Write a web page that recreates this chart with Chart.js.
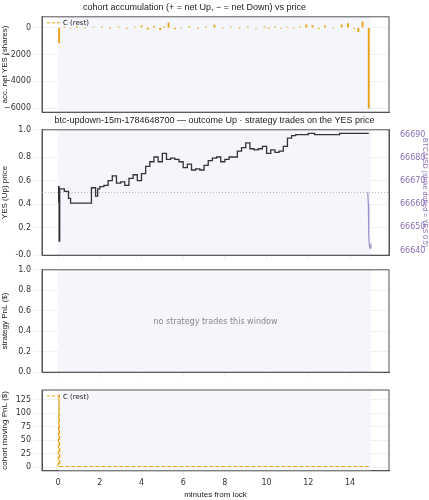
<!DOCTYPE html>
<html><head><meta charset="utf-8">
<script src="https://cdn.jsdelivr.net/npm/chart.js@4.4.0/dist/chart.umd.min.js"></script>
<style>
body{margin:0;background:#fff;font-family:"DejaVu Sans",sans-serif}
.p{position:absolute;left:0;width:429px}
</style></head><body>
<div class="p" style="top:0;height:120px"><canvas id="c1"></canvas></div>
<div class="p" style="top:113px;height:150px"><canvas id="c2"></canvas></div>
<div class="p" style="top:262px;height:118px"><canvas id="c3"></canvas></div>
<div class="p" style="top:380px;height:120px"><canvas id="c4"></canvas></div>
<script>
// panel 1: cohort accumulation stems
const accX = [0.05,0.3,0.6,0.9,1.3,1.7,2.1,2.5,2.9,3.3,3.7,4.0,4.3,4.6,4.9,5.1,5.3,5.6,5.9,6.3,6.7,7.1,7.5,7.9,8.3,8.7,9.1,9.5,9.9,10.1,10.4,10.7,11.0,11.3,11.6,11.9,12.2,12.5,12.8,13.2,13.6,13.9,14.2,14.4,14.6,14.9];
const accY = [-1150,60,-40,80,-50,40,60,-30,50,-60,40,120,-120,100,-150,60,350,-100,-40,80,-60,60,180,-50,40,-30,60,-40,50,-30,60,-40,40,-50,50,200,150,-60,120,-40,200,300,-60,-300,400,-6000];
// panel 2: YES price and BTC
const pxT = [0.0,0.03,0.05,0.08,0.3,0.5,0.6,0.8,1.0,1.4,1.6,1.8,1.9,2.0,2.2,2.4,2.6,2.8,3.0,3.2,3.4,3.6,3.8,4.0,4.2,4.4,4.6,4.8,5.0,5.2,5.4,5.6,5.8,6.0,6.2,6.4,6.6,6.8,7.0,7.2,7.4,7.6,7.8,8.0,8.2,8.4,8.6,8.8,9.0,9.2,9.4,9.6,9.8,10.0,10.2,10.4,10.6,10.8,11.0,11.2,11.4,11.6,11.8,12.0,12.3,12.6,13.0,13.5,14.0,14.5,14.9];
const pxY = [0.42,0.55,0.09,0.53,0.51,0.45,0.41,0.41,0.41,0.41,0.54,0.47,0.53,0.55,0.56,0.60,0.64,0.58,0.59,0.56,0.62,0.65,0.60,0.66,0.72,0.76,0.80,0.76,0.83,0.78,0.79,0.78,0.76,0.71,0.74,0.69,0.70,0.69,0.73,0.77,0.79,0.80,0.76,0.78,0.80,0.80,0.85,0.88,0.92,0.87,0.86,0.87,0.89,0.83,0.86,0.84,0.85,0.89,0.96,0.98,0.99,0.99,0.99,1.0,0.99,0.99,0.99,1.0,1.0,1.0,1.0];
const btcT = [14.85,14.88,14.9,14.93,14.96,15.0];
const btcY = [66665,66660,66646,66642,66641,66643];
// panel 4: cohort moving PnL
const pnlX = [0.0,0.05,0.08,2,4,6,8,10,12,14,14.9];
const pnlY = [1,135,1,1,1,1,1,1,1,1,1];

const orange = '#e8a317';
const grid = {color:'rgba(0,0,0,0.06)'};
const tickFont = {size:8, family:'DejaVu Sans'};
const fitY = s => { s.width = 42; };
const fitR = s => { s.width = 40; };
const xAxis = (showLabels, title) => ({
  type:'linear', min:-0.77, max:15.87, offset:false,
  ticks:{display:showLabels, color:'#333', font:tickFont},
  grid:{...grid, offset:false, drawTicks:true, tickLength:4},
  border:{color:'#555', width:1},
  afterBuildTicks: s => { s.ticks = [0,2,4,6,8,10,12,14].map(v=>({value:v})); },
  title:{display:!!title, text:title, font:{size:8}, color:'#222', padding:0}
});
const shade = {
  id:'shade',
  beforeDatasetsDraw(ch){
    const {ctx, chartArea:a, scales:{x}} = ch;
    ctx.save(); ctx.fillStyle='#f4f6fb';
    ctx.fillRect(x.getPixelForValue(0), a.top, x.getPixelForValue(15)-x.getPixelForValue(0), a.bottom-a.top);
    ctx.restore();
  },
  afterDraw(ch){
    const {ctx, chartArea:a} = ch;
    ctx.save(); ctx.strokeStyle='#555'; ctx.lineWidth=1;
    ctx.strokeRect(a.left, a.top, a.right-a.left, a.bottom-a.top); ctx.restore();
  }
};
const legendDraw = {id:'leg', afterDraw(ch){
  const {ctx, chartArea:a} = ch; ctx.save();
  ctx.strokeStyle=orange; ctx.setLineDash([3,2]); ctx.beginPath(); ctx.moveTo(a.left+5,a.top+6); ctx.lineTo(a.left+18,a.top+6); ctx.stroke();
  ctx.fillStyle='#222'; ctx.font='7px DejaVu Sans'; ctx.fillText('C (rest)', a.left+21, a.top+8.5); ctx.restore();
}};
const base = (title, extra) => ({
  responsive:true, maintainAspectRatio:false, animation:false,
  plugins:{legend:{display:false}, tooltip:{enabled:false},
    title:{display:!!title, text:title, font:{size:9, weight:'normal'}, color:'#222', padding:{top:2,bottom:4}}},
  ...extra
});
const ytitle = t => ({display:true, text:t, font:{size:8}, color:'#222', padding:0});

new Chart(document.getElementById('c1'), {
  type:'bar',
  data:{datasets:[{label:'C (rest)', data:accX.map((x,i)=>({x, y:accY[i]})), backgroundColor:orange, borderColor:orange, barThickness:1.2}]},
  options:base('cohort accumulation (+ = net Up, − = net Down) vs price', {
    layout:{padding:{right:40}},
    scales:{
      x:xAxis(false),
      y:{min:-6300, max:800, afterFit:fitY, grid, border:{color:'#555'},
        ticks:{color:'#333', font:tickFont, callback:v=>String(v).replace('-','−')},
        afterBuildTicks:s=>{s.ticks=[-6000,-4000,-2000,0].map(v=>({value:v}));},
        title:ytitle('acc. net YES (shares)')}
    }
  }),
  plugins:[shade, legendDraw]
});

new Chart(document.getElementById('c2'), {
  type:'line',
  data:{datasets:[
    {data:pxT.map((x,i)=>({x, y:pxY[i]})), borderColor:'#333', borderWidth:1.3, pointRadius:0, stepped:true, yAxisID:'y'},
    {data:[{x:-0.77,y:0.5},{x:15.87,y:0.5}], borderColor:'#bbb', borderWidth:1, borderDash:[1,2], pointRadius:0, yAxisID:'y'},
    {data:btcT.map((x,i)=>({x, y:btcY[i]})), borderColor:'#a08cc8', borderWidth:1.2, pointRadius:0, yAxisID:'y2'}
  ]},
  options:base('btc-updown-15m-1784648700 — outcome Up · strategy trades on the YES price', {
    scales:{
      x:xAxis(false),
      y:{min:-0.03, max:1.03, afterFit:fitY, grid, border:{color:'#555'},
        ticks:{color:'#333', font:tickFont, stepSize:0.2, callback:v=>v.toFixed(1)},
        title:ytitle('YES (Up) price')},
      y2:{position:'right', min:66638, max:66692, afterFit:fitR, grid:{display:false}, border:{color:'#555'},
        ticks:{color:'#8a6fb5', font:tickFont, callback:v=>String(v)},
        afterBuildTicks:s=>{s.ticks=[66640,66650,66660,66670,66680,66690].map(v=>({value:v}));},
        title:{display:true, text:'BTC/USD (strike dotted = YES 0.5)', font:{size:7}, color:'#8a6fb5', padding:0}}
    }
  }),
  plugins:[shade]
});

new Chart(document.getElementById('c3'), {
  type:'line',
  data:{datasets:[]},
  options:base(null, {
    layout:{padding:{right:40, top:6}},
    scales:{
      x:xAxis(false),
      y:{min:0, max:1, afterFit:fitY, grid, border:{color:'#555'},
        ticks:{color:'#333', font:tickFont, stepSize:0.2, callback:v=>v.toFixed(1)},
        title:ytitle('strategy PnL ($)')}
    }
  }),
  plugins:[shade, {id:'msg', afterDraw(ch){
    const {ctx, chartArea:a} = ch; ctx.save();
    ctx.fillStyle='#888'; ctx.font='8px DejaVu Sans'; ctx.textAlign='center';
    ctx.fillText('no strategy trades this window', (a.left+a.right)/2, (a.top+a.bottom)/2+3); ctx.restore();
  }}]
});

new Chart(document.getElementById('c4'), {
  type:'line',
  data:{datasets:[{data:pnlX.map((x,i)=>({x, y:pnlY[i]})), borderColor:orange, borderWidth:1.2, borderDash:[4,2], pointRadius:0}]},
  options:base(null, {
    layout:{padding:{right:40, top:10}},
    scales:{
      x:xAxis(true, 'minutes from lock'),
      y:{min:-7, max:143, afterFit:fitY, grid, border:{color:'#555'},
        ticks:{color:'#333', font:tickFont},
        afterBuildTicks:s=>{s.ticks=[0,25,50,75,100,125].map(v=>({value:v}));},
        title:ytitle('cohort moving PnL ($)')}
    }
  }),
  plugins:[shade, legendDraw]
});
</script>
</body></html>
